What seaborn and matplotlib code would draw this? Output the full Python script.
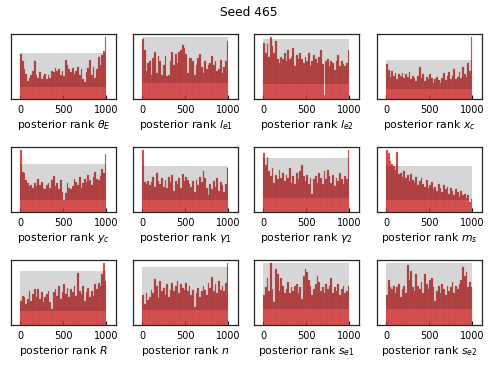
import numpy as np
import pandas as pd
import matplotlib
matplotlib.use("Agg")
import matplotlib.pyplot as plt
import seaborn as sns

title = "Seed 465"
param_labels = [r"$\theta_E$", r"$l_{e1}$", r"$l_{e2}$", r"$x_c$",
                r"$y_c$", r"$\gamma_1$", r"$\gamma_2$", r"$m_s$",
                r"$R$", r"$n$", r"$s_{e1}$", r"$s_{e2}$"]
rank_max = 1000
n_bins = 50
band_low = 8.5
band_high = 33.0
xticks = [0, 500, 1000]

counts_theta_E = [32, 27, 21, 18, 13, 15, 17, 20, 27, 17, 15, 19, 14, 16, 18, 14, 17, 15, 20, 19,
                  22, 20, 21, 17, 20, 16, 28, 24, 21, 19, 22, 18, 20, 23, 17, 21, 14, 12, 19, 22,
                  28, 17, 23, 15, 21, 30, 24, 31, 34, 44]
counts_le1 = [32, 26, 15, 19, 20, 13, 22, 25, 14, 23, 20, 13, 18, 23, 12, 13, 20, 25, 18, 24,
              19, 25, 26, 29, 27, 24, 14, 22, 22, 20, 13, 18, 22, 24, 17, 14, 20, 16, 18, 19,
              23, 18, 20, 15, 16, 21, 14, 17, 20, 31]
counts_le2 = [31, 25, 30, 23, 34, 29, 25, 32, 22, 20, 23, 22, 25, 21, 27, 22, 23, 28, 18, 24,
              22, 25, 22, 20, 23, 21, 25, 18, 21, 24, 22, 20, 23, 27, 19, 2, 21, 22, 18, 21,
              20, 16, 21, 24, 18, 21, 19, 18, 20, 27]
counts_xc = [30, 25, 19, 24, 20, 22, 17, 21, 20, 22, 18, 21, 19, 23, 17, 20, 18, 15, 20, 27,
             18, 21, 15, 19, 17, 21, 18, 14, 17, 19, 16, 14, 18, 22, 16, 20, 23, 17, 20, 26,
             17, 19, 23, 18, 27, 21, 19, 31, 24, 53]
counts_yc = [43, 28, 27, 22, 20, 18, 19, 17, 20, 18, 23, 19, 21, 17, 16, 19, 20, 17, 22, 25,
             18, 20, 16, 22, 14, 8, 13, 20, 17, 16, 18, 23, 21, 19, 24, 17, 20, 23, 21, 26,
             22, 19, 24, 28, 23, 22, 25, 30, 27, 40]
counts_gamma1 = [44, 21, 20, 22, 19, 21, 25, 18, 28, 22, 20, 24, 18, 23, 17, 25, 21, 26, 15, 22,
                 20, 24, 17, 27, 22, 25, 23, 20, 18, 22, 14, 23, 19, 25, 21, 29, 24, 17, 12, 20,
                 16, 22, 18, 24, 15, 21, 19, 14, 20, 31]
counts_gamma2 = [36, 29, 34, 25, 22, 27, 18, 23, 20, 26, 21, 24, 19, 23, 21, 27, 18, 22, 17, 24,
                 20, 25, 29, 22, 19, 23, 17, 21, 11, 20, 22, 18, 24, 21, 17, 25, 20, 26, 22, 18,
                 23, 16, 21, 19, 24, 20, 17, 22, 20, 38]
counts_ms = [44, 42, 36, 34, 33, 30, 43, 27, 28, 25, 29, 24, 26, 22, 27, 23, 21, 25, 19, 22,
             24, 20, 18, 23, 17, 19, 21, 16, 18, 15, 20, 17, 14, 19, 16, 18, 13, 17, 15, 12,
             16, 14, 11, 15, 12, 13, 10, 12, 7, 9]
counts_R = [15, 18, 17, 13, 16, 21, 15, 19, 22, 17, 22, 16, 20, 14, 17, 19, 21, 14, 10, 20,
            22, 18, 24, 16, 20, 25, 19, 23, 17, 22, 20, 24, 18, 32, 21, 19, 24, 15, 20, 23,
            17, 21, 18, 25, 22, 26, 24, 31, 38, 27]
counts_n = [17, 12, 18, 14, 16, 20, 18, 26, 22, 15, 25, 19, 21, 17, 23, 16, 20, 24, 19, 22,
            25, 18, 23, 21, 20, 24, 19, 22, 17, 20, 10, 18, 21, 16, 19, 22, 20, 17, 24, 21,
            27, 19, 23, 18, 25, 20, 22, 19, 24, 35]
counts_se1 = [16, 20, 25, 18, 33, 19, 12, 30, 27, 18, 25, 21, 17, 19, 23, 17, 20, 18, 21, 22,
              17, 20, 14, 26, 30, 28, 24, 21, 16, 19, 22, 26, 23, 18, 20, 17, 22, 19, 21, 25,
              17, 20, 18, 22, 16, 19, 21, 17, 18, 21]
counts_se2 = [16, 24, 20, 19, 21, 17, 20, 22, 15, 19, 21, 17, 32, 24, 29, 20, 18, 27, 21, 19,
              23, 17, 27, 22, 19, 24, 25, 20, 13, 18, 21, 17, 22, 19, 16, 21, 18, 20, 23, 17,
              21, 19, 22, 24, 31, 26, 28, 20, 23, 20]

all_counts = [counts_theta_E, counts_le1, counts_le2, counts_xc,
              counts_yc, counts_gamma1, counts_gamma2, counts_ms,
              counts_R, counts_n, counts_se1, counts_se2]

sns.set_style("white")
plt.rcParams['font.family'] = ['DejaVu Sans']
plt.rcParams['mathtext.fontset'] = 'dejavusans'
plt.rcParams['text.color'] = 'black'
plt.rcParams['axes.labelcolor'] = 'black'
plt.rcParams['xtick.color'] = 'black'

W, H = 498, 374
fig = plt.figure(figsize=(W / 100, H / 100), dpi=100)

col_left = [11, 133, 254, 377]
row_top = [34, 147, 260]
aw, ah = 105, 65

bin_w = rank_max / n_bins
centers = (np.arange(n_bins) + 0.5) * bin_w

for idx, (lab, cnt) in enumerate(zip(param_labels, all_counts)):
    r, c = divmod(idx, 4)
    ax = fig.add_axes([col_left[c] / W, 1 - (row_top[r] + ah) / H, aw / W, ah / H])
    df = pd.DataFrame({"rank": centers, "count": np.asarray(cnt, dtype=float)})
    sns.histplot(data=df, x="rank", weights="count", bins=n_bins, binrange=(0, rank_max),
                 ax=ax, color="#c41e1e", alpha=0.8, edgecolor="#e07070", linewidth=0.15)
    ax.fill_between([0, rank_max], band_low, band_high, color="black", alpha=0.16,
                    linewidth=0)
    ymax = max(max(cnt), band_high) * 1.05
    ax.set_ylim(0, ymax)
    ax.set_xlim(-105, 1110)
    ax.set_xticks(xticks)
    ax.set_yticks([])
    ax.set_ylabel("")
    ax.set_xlabel("posterior rank " + lab, fontsize=7.8, labelpad=2)
    ax.tick_params(axis="x", direction="in", length=3, width=0.8, pad=4.5,
                   labelsize=7.0, bottom=True, color="black")
    for s in ax.spines.values():
        s.set_color("0.15")
        s.set_linewidth(0.9)

fig.suptitle(title, fontsize=8.8, y=1 - 12 / H, va="center")
fig.savefig("out.png", dpi=100)
